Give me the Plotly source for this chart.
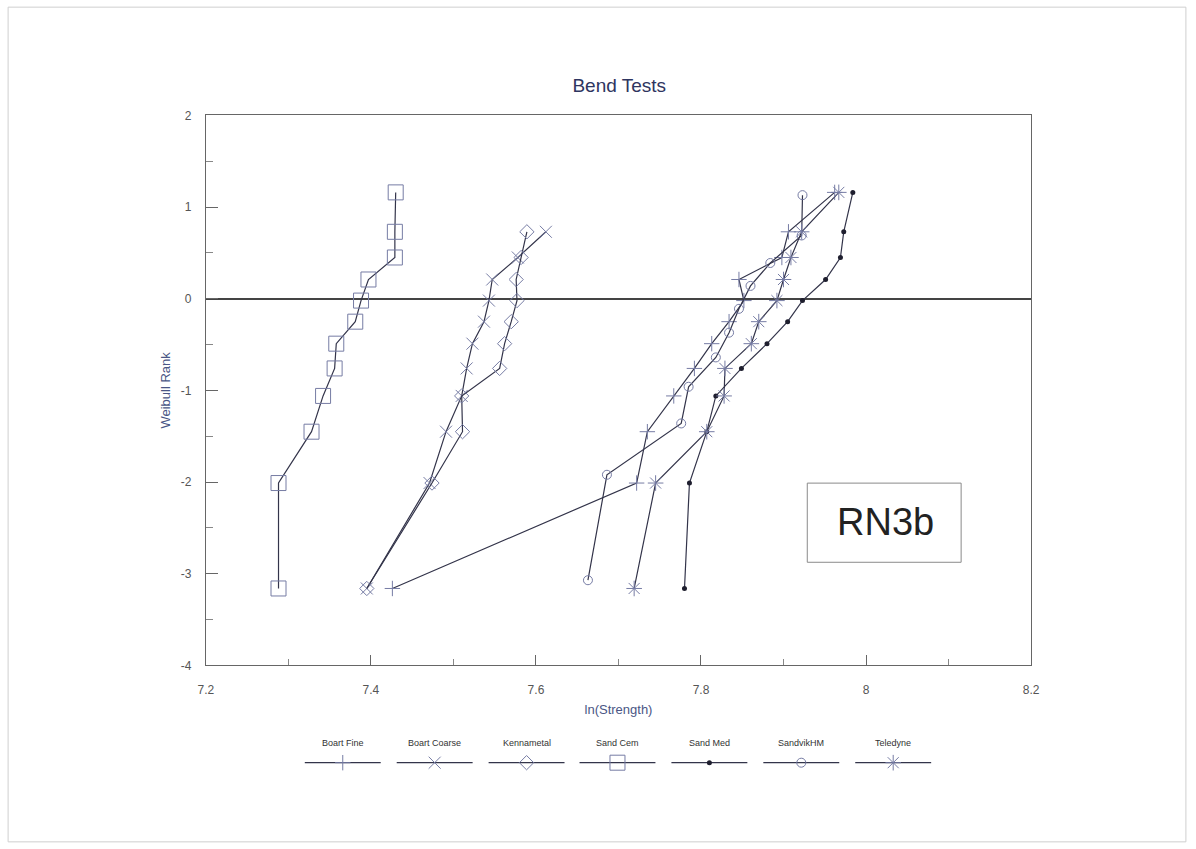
import plotly.graph_objects as go

# figure size; the page adds an 8 px body margin, and the snapshot of the
# whole page is scaled down to the window size
W, H = 1196, 849
BODY = 8
SX = W / (W + 2 * BODY)
SY = H / (H + 2 * BODY)

# ---- data: ln(strength) and Weibull rank for each material ----
boart_fine_x = [7.426, 7.722, 7.735, 7.767, 7.792, 7.813, 7.834, 7.852, 7.846, 7.898, 7.906, 7.962]
boart_fine_y = [-3.16, -2.01, -1.45, -1.06, -0.76, -0.49, -0.25, -0.02, 0.21, 0.45, 0.73, 1.16]

boart_coarse_x = [7.395, 7.471, 7.491, 7.510, 7.516, 7.523, 7.537, 7.543, 7.547, 7.578, 7.612]
boart_coarse_y = [-3.16, -2.01, -1.45, -1.06, -0.76, -0.49, -0.25, -0.02, 0.21, 0.45, 0.73]

kennametal_x = [7.395, 7.474, 7.511, 7.510, 7.556, 7.562, 7.570, 7.577, 7.576, 7.582, 7.589]
kennametal_y = [-3.16, -2.01, -1.45, -1.06, -0.76, -0.49, -0.25, -0.02, 0.21, 0.45, 0.73]

sand_cem_x = [7.288, 7.288, 7.328, 7.342, 7.356, 7.358, 7.381, 7.388, 7.397, 7.429, 7.429, 7.430]
sand_cem_y = [-3.16, -2.01, -1.45, -1.06, -0.76, -0.49, -0.25, -0.02, 0.21, 0.45, 0.73, 1.16]

sand_med_x = [7.780, 7.786, 7.807, 7.818, 7.849, 7.880, 7.905, 7.923, 7.951, 7.969, 7.973, 7.984]
sand_med_y = [-3.16, -2.01, -1.45, -1.06, -0.76, -0.49, -0.25, -0.02, 0.21, 0.45, 0.73, 1.16]

sandvik_x = [7.663, 7.686, 7.776, 7.785, 7.818, 7.834, 7.846, 7.860, 7.884, 7.922, 7.923]
sandvik_y = [-3.07, -1.92, -1.36, -0.96, -0.64, -0.37, -0.11, 0.14, 0.39, 0.69, 1.13]

teledyne_x = [7.719, 7.745, 7.807, 7.828, 7.829, 7.861, 7.870, 7.892, 7.900, 7.909, 7.922, 7.967]
teledyne_y = [-3.16, -2.01, -1.45, -1.06, -0.76, -0.49, -0.25, -0.02, 0.21, 0.45, 0.73, 1.16]

series_names = ["Boart Fine", "Boart Coarse", "Kennametal", "Sand Cem",
                "Sand Med", "SandvikHM", "Teledyne"]

x_tick_vals = [7.2, 7.4, 7.6, 7.8, 8.0, 8.2]
x_tick_text = ["7.2", "7.4", "7.6", "7.8", "8", "8.2"]
y_tick_vals = [-4, -3, -2, -1, 0, 1, 2]
y_tick_text = ["-4", "-3", "-2", "-1", "0", "1", "2"]

# ---- styling ----
LINE_C = "#33344a"
MARK_C = "#767ca4"
FONT = "Liberation Sans, Arial, sans-serif"

styles = {
    "Boart Fine":   dict(symbol="cross-thin-open", size=11, color=MARK_C, width=1),
    "Boart Coarse": dict(symbol="x-thin-open", size=12, color=MARK_C, width=1),
    "Kennametal":   dict(symbol="diamond-open", size=11, color=MARK_C, width=1),
    "Sand Cem":     dict(symbol="square-open", size=15, color=MARK_C, width=1),
    "Sand Med":     dict(symbol="circle", size=5, color="#1e1e2e", width=0),
    "SandvikHM":    dict(symbol="circle-open", size=9, color=MARK_C, width=1),
    "Teledyne":     dict(symbol="asterisk-open", size=13, color=MARK_C, width=1),
}

data = {
    "Boart Fine": (boart_fine_x, boart_fine_y),
    "Boart Coarse": (boart_coarse_x, boart_coarse_y),
    "Kennametal": (kennametal_x, kennametal_y),
    "Sand Cem": (sand_cem_x, sand_cem_y),
    "Sand Med": (sand_med_x, sand_med_y),
    "SandvikHM": (sandvik_x, sandvik_y),
    "Teledyne": (teledyne_x, teledyne_y),
}

fig = go.Figure()

for name in series_names:
    xs, ys = data[name]
    st = styles[name]
    fig.add_trace(go.Scatter(
        x=xs, y=ys, mode="lines+markers", name=name,
        line=dict(color=LINE_C, width=1.2),
        marker=dict(symbol=st["symbol"], size=st["size"], color=st["color"],
                    line=dict(color=st["color"], width=st["width"])),
        showlegend=False,
    ))

# ---- key below the plot, on an overlay axis scaled in screen pixels ----
key_cx = [343, 435, 527, 618, 710, 802, 894]
key_line_y = 762
key_text_y = 742
key_half = 38
for name, cx in zip(series_names, key_cx):
    st = styles[name]
    fig.add_trace(go.Scatter(
        x=[cx - key_half, cx + key_half], y=[key_line_y, key_line_y],
        mode="lines", line=dict(color=LINE_C, width=1.2),
        xaxis="x2", yaxis="y2", showlegend=False, hoverinfo="skip"))
    fig.add_trace(go.Scatter(
        x=[cx], y=[key_line_y], mode="markers",
        marker=dict(symbol=st["symbol"], size=st["size"], color=st["color"],
                    line=dict(color=st["color"], width=st["width"])),
        xaxis="x2", yaxis="y2", showlegend=False, hoverinfo="skip"))
    fig.add_annotation(x=cx, y=key_text_y, xref="x2", yref="y2", text=name,
                       xanchor="center", yanchor="middle",
                       showarrow=False, font=dict(family=FONT, size=9, color="#333"))

# plot-area edges in screen pixels
PL, PR, PT, PB = 206, 1032, 116, 665


def px(x):
    return (x / SX - BODY) / W


def py(y):
    return 1 - (y / SY - BODY) / H


fig.update_layout(
    width=W, height=H,
    margin=dict(l=0, r=0, t=0, b=0),
    paper_bgcolor="white", plot_bgcolor="rgba(0,0,0,0)",
    font=dict(family=FONT, color="#444"),
    title=dict(text="Bend Tests", x=px((PL + PR) / 2), xanchor="center",
               y=py(92), yanchor="middle",
               font=dict(family=FONT, size=19, color="#2e3560")),
    xaxis=dict(
        domain=[px(PL), px(PR)], range=[7.2, 8.2],
        tickvals=x_tick_vals, ticktext=x_tick_text,
        ticks="inside", ticklen=10, tickcolor="#666",
        minor=dict(ticks="inside", ticklen=6, dtick=0.1, tickcolor="#888"),
        showline=True, mirror=True, linecolor="#666", linewidth=1.2,
        showgrid=False, zeroline=False,
        tickfont=dict(size=12, color="#555"), ticklabelstandoff=13,
        title=dict(text="ln(Strength)", standoff=8,
                   font=dict(size=13, color="#4a5685")),
        anchor="y",
    ),
    yaxis=dict(
        domain=[py(PB), py(PT)], range=[-4, 2],
        tickvals=y_tick_vals, ticktext=y_tick_text,
        ticks="inside", ticklen=12, tickcolor="#666",
        minor=dict(ticks="inside", ticklen=7, dtick=0.5, tickcolor="#888"),
        showline=True, mirror=True, linecolor="#666", linewidth=1.2,
        showgrid=False, zeroline=True, zerolinecolor="#444", zerolinewidth=1.5,
        tickfont=dict(size=12, color="#555"), ticklabelstandoff=11,
        title=dict(text="Weibull Rank", standoff=7,
                   font=dict(size=13, color="#4a5685")),
        anchor="x",
    ),
    xaxis2=dict(domain=[0, 1], range=[BODY * SX, (W + BODY) * SX],
                visible=False, anchor="y2", fixedrange=True),
    yaxis2=dict(domain=[0, 1], range=[(H + BODY) * SY, BODY * SY],
                visible=False, anchor="x2", fixedrange=True),
)

# outer frame of the page
fig.add_shape(type="rect", xref="paper", yref="paper",
              x0=px(8), x1=px(1187), y0=py(841), y1=py(8),
              line=dict(color="#cfcfcf", width=1), layer="below")

# sample label box
fig.add_shape(type="rect", xref="x2", yref="y2",
              x0=808, x1=962, y0=483, y1=562,
              line=dict(color="#8a8a8a", width=1), fillcolor="white")
fig.add_annotation(x=886, y=522, xref="x2", yref="y2",
                   xanchor="center", yanchor="middle",
                   text="RN3b", showarrow=False,
                   font=dict(family=FONT, size=38, color="#222"))

fig.write_html("out.html")
